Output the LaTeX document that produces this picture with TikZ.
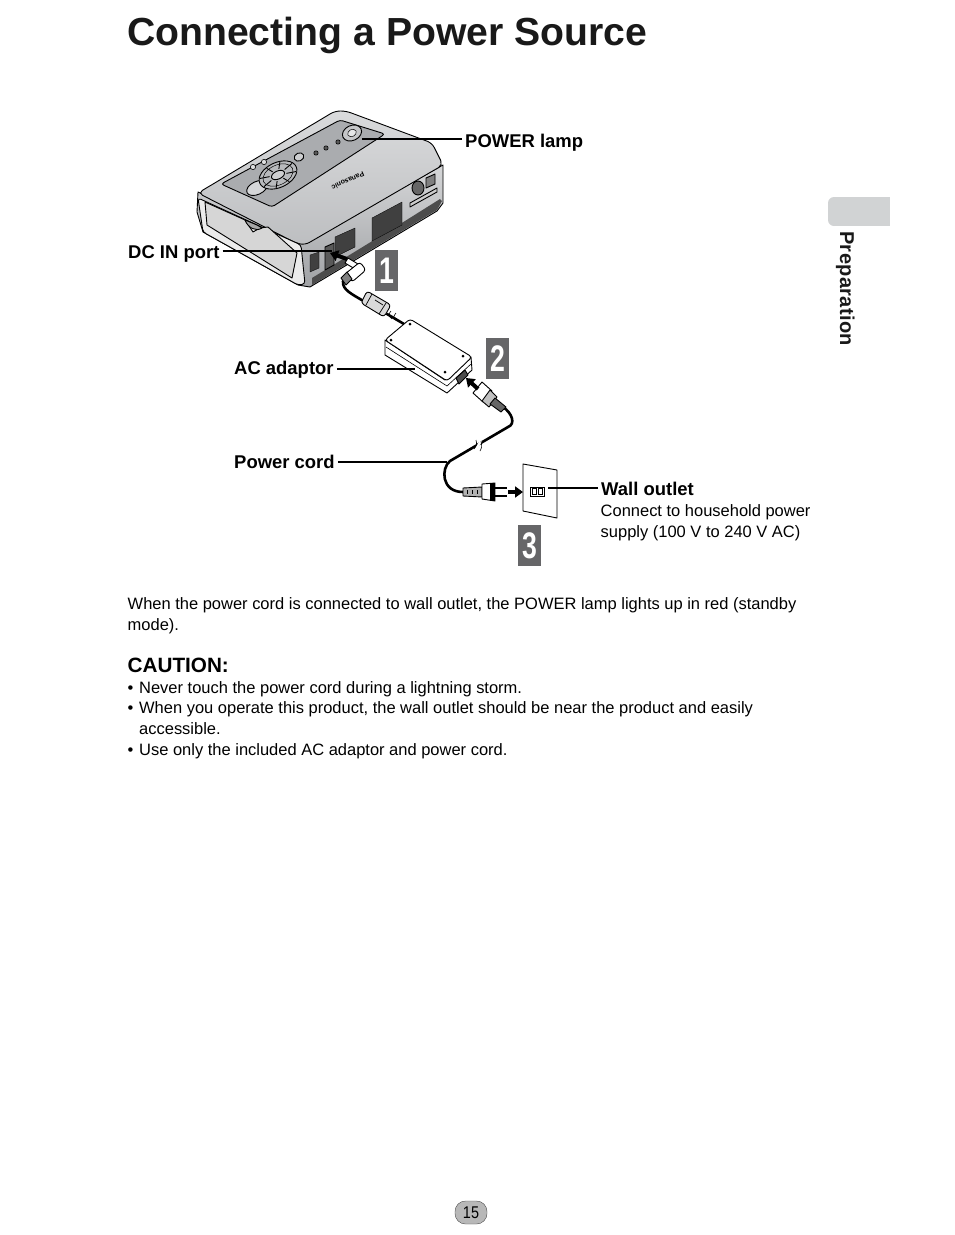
\documentclass[tikz,border=0pt]{standalone}
\usepackage{fontspec}
\setmainfont{Liberation Sans}
\usetikzlibrary{arrows.meta, positioning, shapes.geometric}
\definecolor{badgegray}{RGB}{102, 102, 104}
\definecolor{tabgray}{RGB}{209, 211, 212}
\definecolor{bodygray}{RGB}{172, 174, 177}
\definecolor{sidegray}{RGB}{160, 162, 165}
\definecolor{panelgray}{RGB}{170, 172, 175}
\newcommand{\fsz}[1]{\fontsize{#1}{#1}\selectfont}
\newcommand{\bulitem}[1]{\makebox[11.5pt][l]{•}#1}

\tikzset{
    labeltext/.style={anchor=base west, inner sep=0pt, font=\fsz{18.45}\bfseries},
    bodytext/.style={anchor=base west, inner sep=0pt, font=\fsz{16.48}},
    badge/.style={fill=badgegray, text=white, minimum width=23pt, minimum height=41pt, inner sep=0pt, font=\fsz{37}\bfseries},
    leader/.style={line width=1.6pt, shorten <=3pt},
    cable/.style={line width=2.6pt, line cap=round},
    fatarrow/.style={line width=4pt, -{Triangle[length=8pt, width=11pt]}},
    grille/.style={fill=black!75, draw=black, line width=0.3pt},
    part/.style={draw=black, line width=0.9pt, line join=round}
}

\begin{document}
\begin{tikzpicture}[x=1pt, y=-1pt]
    \useasboundingbox[fill=white] (0, 0) rectangle (954, 1235);
    % Title
    \node[anchor=base west, inner sep=0pt, font=\fsz{39.15}\bfseries, text=black!90] (title) at (127, 45) {Connecting a Power Source};

    % Side tab
    \path[fill=tabgray, rounded corners=6pt] (840, 197) -- (828, 197) -- (828, 226) -- (840, 226) -- cycle;
    \path[fill=tabgray] (834, 197) rectangle (890, 226);
    \node[rotate=-90, anchor=base west, inner sep=0pt, font=\fsz{20}\bfseries\addfontfeature{LetterSpace=1.8}, text=black!90] (tabtext) at (840, 231) {Preparation};

    % Printer body
    \draw[part, top color=bodygray!50, bottom color=sidegray] (198, 192) -- (197, 212) -- (203, 232) -- (298, 285) -- (310, 287) -- (437, 211) -- (443, 203) -- (443, 165) -- (303, 243) -- cycle;
    \fill[black!70] (312, 285) -- (437, 210) -- (442, 201) -- (440, 199) -- (405, 221) -- (312, 278) -- cycle;
    \draw[part, top color=bodygray!45, bottom color=bodygray!80, rounded corners=5pt] (198, 193) -- (335, 111) -- (346, 111) -- (432, 143) -- (443, 165) -- (305, 245) -- (296, 243) -- cycle;
    % Front window
    \draw[part, fill=black!8, rounded corners=3pt] (198, 198) -- (301, 245) -- (305, 284) -- (298, 285) -- (203, 232) -- cycle;
    \draw[part, fill=black!16] (205, 202) -- (245, 220) -- (253, 232) -- (260, 228) -- (268, 227) -- (297, 253) -- (292, 278) -- (207, 225) -- cycle;
    \draw[part, fill=black!35] (245, 220) .. controls (248, 228) and (256, 232) .. (262, 228) -- (257, 225) -- cycle;
    % Side grilles
    \draw[grille] (372, 218) -- (402, 202) -- (402, 225) -- (372, 241) -- cycle;
    \draw[grille] (335, 237) -- (355, 228) -- (355, 247) -- (335, 257) -- cycle;
    \draw[grille] (310, 255) -- (319, 252) -- (319, 268) -- (310, 272) -- cycle;
    % Back connectors
    \draw[part, fill=black!60] (418, 188) ellipse (6pt and 7pt);
    \draw[part, fill=black!50] (426, 178) -- (435, 174) -- (435, 184) -- (426, 188) -- cycle;
    \draw[part, fill=white!80!black] (410, 203) -- (437, 188) -- (437, 192) -- (410, 207) -- cycle;
    \draw[part, fill=black!65] (325, 247) -- (334, 243) -- (334, 265) -- (325, 270) -- cycle;

    % Control panel
    \draw[part, fill=panelgray, rounded corners=3pt] (221, 184) -- (340, 120) -- (385, 134) -- (272, 207) -- cycle;
    \node[draw, fill=bodygray!70, ellipse, line width=0.9pt, rotate=25, minimum width=20pt, minimum height=15pt, inner sep=0pt] (powerbtn) at (352, 133) {};
    \node[draw, fill=bodygray!30, ellipse, line width=0.5pt, rotate=25, minimum width=9pt, minimum height=7pt, inner sep=0pt] (powercap) at (352, 133) {};
    \draw[part, fill=bodygray!50] (257, 188) ellipse[x radius=11pt, y radius=6.5pt, rotate=25];
    \draw[part, fill=bodygray!85] (278, 175) ellipse[x radius=20pt, y radius=12.5pt, rotate=25];
    \begin{scope}[shift={(278, 175)}, rotate=25, yscale=0.62]
        \foreach \a in {22, 67, ..., 337} {
            \draw[line width=0.9pt] (\a:9) -- (\a:19);
        }
        \draw[line width=0.5pt] (0, 0) circle (16);
    \end{scope}
    \draw[part, fill=bodygray!60] (278, 175) ellipse[x radius=7pt, y radius=4pt, rotate=25];
    \draw[part, fill=bodygray!60] (299, 157) ellipse[x radius=5pt, y radius=4pt, rotate=25];
    \foreach \bx/\by in {253/167, 264/162} {
        \draw[part, line width=0.6pt, fill=bodygray!40] (\bx, \by) circle (2.6pt);
    }
    \foreach \bx/\by in {316/153, 326/148, 338/142} {
        \draw[part, line width=0.6pt, fill=black!65] (\bx, \by) circle (2.2pt);
    }
    \node[rotate=204, inner sep=0pt, font=\fsz{7}\bfseries] (brand) at (348, 181) {Panasonic};

    % DC plug and cable
    \draw[cable] (343, 281) .. controls (342, 290) and (352, 294) .. (365, 302);
    \draw[cable] (387, 314) -- (404, 324);
    \draw[part, fill=white] (348, 258) -- (358, 264) -- (355, 269) -- (345, 263) -- cycle;
    \draw[part, fill=white, rounded corners=3pt] (345, 274) -- (360, 262) -- (366, 270) -- (352, 282) -- cycle;
    \draw[part, fill=black!50] (341, 278) -- (347, 272) -- (352, 279) -- (346, 285) -- cycle;
    \draw[part, fill=black!15, rounded corners=3pt] (367, 291) -- (391, 305) -- (384, 317) -- (361, 303) -- cycle;
    \draw[part, line width=0.7pt] (372, 294) -- (366, 305) (386, 303) -- (379, 314) (375, 300) -- (383, 305);
    \draw[line width=0.6pt] (391, 311) .. controls (388, 315) .. (392, 319) (396, 313) .. controls (393, 317) .. (397, 321);
    \draw[fatarrow] (347, 259) -- (330, 253);

    % AC adaptor
    \draw[part, fill=white] (385, 340) -- (385, 355) -- (447, 393) -- (472, 370) -- (471, 357) -- (445, 380) -- cycle;
    \draw[part, fill=white, rounded corners=3pt] (385, 340) -- (410, 319) -- (472, 357) -- (447, 381) -- cycle;
    \draw[line width=0.6pt] (386, 347) -- (447, 386) -- (471, 364);
    \foreach \sx/\sy in {391/340, 410/324, 463/356, 445/372} {
        \fill (\sx, \sy) circle (1.5pt);
    }
    \draw[part, fill=black!70] (456, 378) -- (465, 370) -- (468, 375) -- (459, 384) -- cycle;

    % Power cord and its plugs
    \draw[cable] (503, 407) .. controls (512, 413) and (516, 424) .. (508, 427) -- (450, 461) .. controls (441, 468) and (441, 492) .. (463, 492);
    \draw[part, fill=white] (473, 393) -- (482, 382) -- (492, 391) -- (483, 402) -- cycle;
    \draw[part, fill=black!25] (490, 390) -- (497, 397) -- (489, 407) -- (482, 401) -- cycle;
    \draw[part, fill=black!60] (495, 398) -- (506, 407) -- (501, 412) -- (490, 404) -- cycle;
    \draw[part, fill=white!70!black] (463, 488) -- (482, 487) -- (482, 497) -- (463, 496) -- cycle;
    \foreach \tx in {467, 472, 477} {
        \draw[line width=0.7pt] (\tx, 490) -- (\tx, 494);
    }
    \draw[part, fill=white] (482, 484) -- (495, 483) -- (495, 501) -- (482, 499) -- cycle;
    \fill (490, 483) rectangle (495, 501);
    \draw[line width=1.2pt] (495, 488) -- (507, 488) (495, 496) -- (507, 496);
    \draw[white, line width=2.4pt] (476, 449) -- (481, 441);
    \draw[line width=0.6pt] (474, 449) .. controls (477, 445) .. (476, 440) (480, 451) .. controls (482, 447) .. (481, 441);
    \draw[fatarrow] (478, 389) -- (466, 378);
    \draw[fatarrow] (508, 492) -- (523, 492);

    % Wall outlet
    \draw[part, fill=white] (523, 464) -- (557, 470) -- (557, 518) -- (523, 511) -- cycle;
    \draw[line width=0.7pt] (530, 487) rectangle (544, 496) (532, 488.5) rectangle (536.5, 494.5) (538, 488.5) rectangle (542.5, 494.5);

    % Step badges
    \node[badge] (stepone) at (386.5, 270.5) {\scalebox{0.72}[1]{1}};
    \node[badge] (steptwo) at (497.5, 358.5) {\scalebox{0.72}[1]{2}};
    \node[badge] (stepthree) at (529.5, 545.5) {\scalebox{0.72}[1]{3}};

    % Labels and leaders
    \node[labeltext] (lamplabel) at (465, 147) {POWER lamp};
    \node[labeltext] (dclabel) at (128, 258) {DC IN port};
    \node[labeltext] (adaptorlabel) at (234, 374) {AC adaptor};
    \node[labeltext] (cordlabel) at (234, 468) {Power cord};
    \node[labeltext] (outletlabel) at (601, 495) {Wall outlet};
    \coordinate (lampend) at (362, 139);
    \coordinate (dcend) at (332, 251);
    \coordinate (adaptorend) at (415, 369);
    \coordinate (cordend) at (447, 462);
    \coordinate (outletend) at (548, 488);
    \draw[leader] (lamplabel.west |- lampend) -- (lampend);
    \draw[leader] (dclabel.east |- dcend) -- (dcend);
    \draw[leader] (adaptorlabel.east |- adaptorend) -- (adaptorend);
    \draw[leader] (cordlabel.east |- cordend) -- (cordend);
    \draw[leader] (outletlabel.west |- outletend) -- (outletend);
    \node[bodytext] (outletone) at (600.5, 516) {Connect to household power};
    \node[bodytext] (outlettwo) at (600.5, 537) {supply (100 V to 240 V AC)};

    % Paragraph
    \node[bodytext] (paraone) at (127.5, 609) {When the power cord is connected to wall outlet, the POWER lamp lights up in red (standby};
    \node[bodytext] (paratwo) at (127.5, 630) {mode).};
    % Caution block
    \node[anchor=base west, inner sep=0pt, font=\fsz{20.7}\bfseries] (caution) at (127.5, 672) {CAUTION:};
    \node[bodytext] (bulone) at (127.5, 693) {\bulitem{Never touch the power cord during a lightning storm.}};
    \node[bodytext] (bultwo) at (127.5, 713) {\bulitem{When you operate this product, the wall outlet should be near the product and easily}};
    \node[bodytext] (bulthree) at (139, 734) {accessible.};
    \node[bodytext] (bulfour) at (127.5, 755) {\bulitem{Use only the included AC adaptor and power cord.}};

    % Page number
    \node[draw=black!70, fill=black!28, rounded corners=10.5pt, minimum width=32pt, minimum height=23pt, inner sep=0pt, font=\fsz{17}] (pagenum) at (471, 1212.5) {\scalebox{0.85}[1]{15}};
\end{tikzpicture}
\end{document}
